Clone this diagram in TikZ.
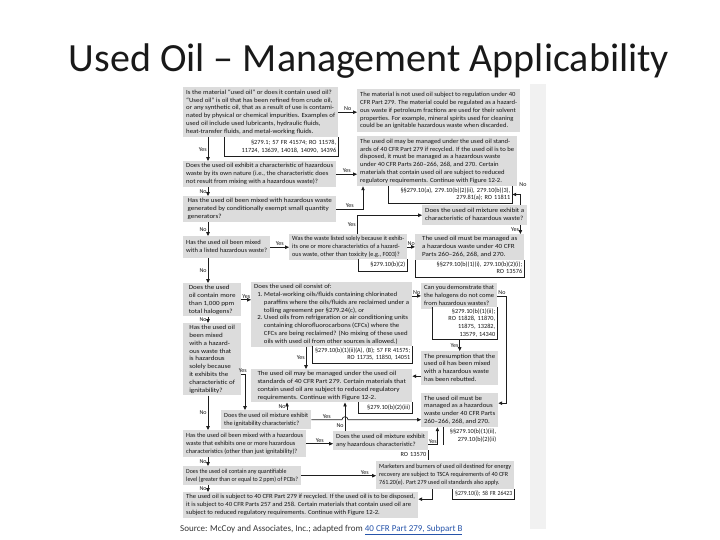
\documentclass[tikz,border=0pt]{standalone}
\usepackage{fontspec}
\usepackage{graphicx}
\setmainfont{Carlito}
\usetikzlibrary{arrows.meta,calc}
\definecolor{boxgray}{RGB}{220,220,220}
\definecolor{txt}{RGB}{20,20,20}
\definecolor{linec}{RGB}{30,30,30}
\definecolor{linkblue}{RGB}{38,84,170}
\definecolor{stripc}{RGB}{241,241,241}
\newcommand{\smf}{\fontsize{6.3}{7.8}\selectfont}
\newsavebox\tbx
\newlength\tbxw
\newcommand{\fitL}[4]{\sbox\tbx{\begin{tabular}{@{}#1@{}}#4\end{tabular}}\setlength\tbxw{\wd\tbx}\pgfmathsetmacro\mysx{min(#3,max(0.85,#2/\tbxw))}\scalebox{\mysx}[1]{\usebox\tbx}}
\newcommand{\gbx}[6]{\pgfmathsetmacro\mytw{#4-6}\node[gb,minimum width=#4pt,minimum height=#5pt] (#1) at (#2,#3) {\fitL{l}{\mytw}{1.12}{#6}};}
\newcommand{\rbx}[6]{\pgfmathsetmacro\mytw{#4-5}\node[rb,minimum width=#4pt,minimum height=#5pt,text width=#4pt-4pt,align=right] (#1) at (#2,#3) {\fitL{r}{\mytw}{1.0}{#6}};}
\newcommand{\brk}[1]{\draw[ln] (#1.north west) -- (#1.south west) -- (#1.south east) -- (#1.north east);}
\begin{document}
\begin{tikzpicture}[x=1pt,y=-1pt,
  gb/.style={fill=boxgray,anchor=north west,inner xsep=2pt,inner ysep=1pt,font=\smf,text=txt},
  rb/.style={fill=white,anchor=north west,inner xsep=2pt,inner ysep=0.5pt,font=\smf,text=txt},
  lab/.style={font=\fontsize{6}{7}\selectfont,text=txt,inner sep=1pt},
  arr/.style={draw=linec,line width=0.7pt,-{Triangle[length=3.8pt,width=3.4pt]}},
  ln/.style={draw=linec,line width=0.6pt}]
\useasboundingbox (0,0) rectangle (720,540);
\fill[stripc] (530,84) rectangle (546,529);
\node[font=\fontsize{40}{48}\selectfont,text={black!90},anchor=base] (title) at (369,72) {Used Oil – Management Applicability};

% ---------- boxes ----------
\gbx{Q1}{183}{87}{155}{50}{Is the material “used oil” or does it contain used oil?\\“Used oil” is oil that has been refined from crude oil,\\or any synthetic oil, that as a result of use is contami-\\nated by physical or chemical impurities. Examples of\\used oil include used lubricants, hydraulic fluids,\\heat-transfer fluids, and metal-working fluids.}
\rbx{R1}{224}{137}{114}{19}{§279.1; 57 FR 41574; RO 11578,\\11724, 13639, 14018, 14090, 14396}
\gbx{A1}{357}{89}{163}{43}{The material is not used oil subject to regulation under 40\\CFR Part 279. The material could be regulated as a hazard-\\ous waste if petroleum fractions are used for their solvent\\properties. For example, mineral spirits used for cleaning\\could be an ignitable hazardous waste when discarded.}
\gbx{A2}{357}{136}{160}{50}{The used oil may be managed under the used oil stand-\\ards of 40 CFR Part 279 if recycled. If the used oil is to be\\disposed, it must be managed as a hazardous waste\\under 40 CFR Parts 260–266, 268, and 270. Certain\\materials that contain used oil are subject to reduced\\regulatory requirements. Continue with Figure 12-2.}
\rbx{R2}{388}{186}{124}{16}{§§279.10(a), 279.10(b)(2)(ii), 279.10(b)(3),\\279.81(a); RO 11811}
\gbx{Q2}{183}{161}{153}{26}{Does the used oil exhibit a characteristic of hazardous\\waste by its own nature (i.e., the characteristic does\\not result from mixing with a hazardous waste)?}
\gbx{Q3}{183}{196}{153}{26}{Has the used oil been mixed with hazardous waste\\generated by conditionally exempt small quantity\\generators?}
\gbx{MX1}{422}{205}{105}{20}{Does the used oil mixture exhibit a\\characteristic of hazardous waste?}
\gbx{Q4}{183}{236}{87}{22}{Has the used oil been mixed\\with a listed hazardous waste?}
\gbx{W}{289}{234}{118}{25}{Was the waste listed solely because it exhib-\\its one or more characteristics of a hazard-\\ous waste, other than toxicity (e.g., F003)?}
\rbx{RW}{358}{259}{49}{12}{§279.10(b)(2)}
\gbx{HW1}{415}{234}{109}{26}{The used oil must be managed as\\a hazardous waste under 40 CFR\\Parts 260–266, 268, and 270.}
\rbx{RHW1}{415}{260}{109}{16}{§§279.10(b)(1)(i), 279.10(b)(2)(i);\\RO 13576}
\gbx{Q5}{183}{283}{58}{31}{Does the used\\oil contain more\\than 1,000 ppm\\total halogens?}
\gbx{C}{251}{282}{161}{64}{Does the used oil consist of:\\\hspace*{3pt}1.\ Metal-working oils/fluids containing chlorinated\\\hspace*{9pt}paraffins where the oils/fluids are reclaimed under a\\\hspace*{9pt}tolling agreement per §279.24(c), or\\\hspace*{3pt}2.\ Used oils from refrigeration or air conditioning units\\\hspace*{9pt}containing chlorofluorocarbons (CFCs) where the\\\hspace*{9pt}CFCs are being reclaimed? (No mixing of these used\\\hspace*{9pt}oils with used oil from other sources is allowed.)}
\rbx{RC}{312}{346}{100}{16}{§279.10(b)(1)(ii)(A), (B); 57 FR 41575;\\RO 11735, 11850, 14051}
\gbx{D}{421}{283}{76}{24}{Can you demonstrate that\\the halogens do not come\\from hazardous wastes?}
\rbx{RD}{432}{307}{65}{32}{§279.10(b)(1)(ii);\\RO 11828, 11870,\\11875, 13282,\\13579, 14340}
\gbx{P}{421}{351}{77}{34}{The presumption that the\\used oil has been mixed\\with a hazardous waste\\has been rebutted.}
\gbx{M}{251}{369}{161}{33}{The used oil may be managed under the used oil\\standards of 40 CFR Part 279. Certain materials that\\contain used oil are subject to reduced regulatory\\requirements. Continue with Figure 12-2.}
\rbx{RM}{358}{402}{54}{11}{§279.10(b)(2)(iii)}
\gbx{Q6}{183}{323}{58}{71}{Has the used oil\\been mixed\\with a hazard-\\ous waste that\\is hazardous\\solely because\\it exhibits the\\characteristic of\\ignitability?}
\gbx{IG}{221}{410}{90}{19}{Does the used oil mixture exhibit\\the ignitability characteristic?}
\gbx{HW2}{421}{393}{77}{34}{The used oil must be\\managed as a hazardous\\waste under 40 CFR Parts\\260–266, 268, and 270.}
\rbx{RHW2}{443}{427}{55}{18}{§§279.10(b)(1)(ii),\\279.10(b)(2)(ii)}
\gbx{AH}{333}{431}{95}{19}{Does the used oil mixture exhibit\\any hazardous characteristic?}
\rbx{RAH}{396}{450}{32}{10}{RO 13570}
\gbx{HC}{183}{430}{123}{27}{Has the used oil been mixed with a hazardous\\waste that exhibits one or more hazardous\\characteristics (other than just ignitability)?}
\gbx{PCB}{183}{466}{118}{19}{Does the used oil contain any quantifiable\\level (greater than or equal to 2 ppm) of PCBs?}
\gbx{MB}{376}{461}{138}{28}{Marketers and burners of used oil destined for energy\\recovery are subject to TSCA requirements of 40 CFR\\761.20(e). Part 279 used oil standards also apply.}
\rbx{RMB}{452}{489}{62}{10}{§279.10(i); 58 FR 26423}
\gbx{F}{183}{492}{235}{26}{The used oil is subject to 40 CFR Part 279 if recycled. If the used oil is to be disposed,\\it is subject to 40 CFR Parts 257 and 258. Certain materials that contain used oil are\\subject to reduced regulatory requirements. Continue with Figure 12-2.}

% ---------- reference brackets ----------
\brk{R1}\brk{R2}\brk{RW}\brk{RHW1}\brk{RC}\brk{RD}\brk{RM}\brk{RMB}
\draw[ln] (RHW2.north west) -- (RHW2.south west);
\draw[ln] (RAH.north east) -- (RAH.south east);

% ---------- helper coordinates ----------
\coordinate (A2x) at ([xshift=6pt]A2.south west);
\coordinate (Wx) at ([xshift=68pt]W.north west);
\coordinate (MXx) at ([xshift=-7pt]MX1.north east);
\coordinate (MXy) at ([xshift=-7pt]MX1.south east);
\coordinate (Cx) at ([xshift=55pt]C.south west);
\coordinate (Pw) at ([yshift=-8pt]P.west);
\coordinate (HWr) at ([yshift=7pt]HW2.east);
\coordinate (Q6y) at ([yshift=-15pt]Q6.east);
\coordinate (IGx) at ([xshift=24pt]IG.north west);
\coordinate (IGn) at ([xshift=66pt]IG.north west);
\coordinate (AHx) at ([xshift=12pt]AH.north west);
\coordinate (hop) at (IG.east -| AHx);
\coordinate (AHy) at ([yshift=-4pt]AH.east);
\coordinate (AHc) at ([xshift=9pt]AHy);
\coordinate (MBx) at ([xshift=56pt]MB.south west);
\coordinate (Fe) at ([yshift=6pt]F.east);

% ---------- connectors ----------
\draw[arr] (Q1.east) -- node[lab,above] (l1) {No} (Q1.east -| A1.west);
\draw[arr] ([xshift=25pt]Q1.south west) -- node[lab,left] (l2) {Yes} ([xshift=25pt]Q2.north west);
\draw[arr] (Q2.east) -- node[lab,above] (l3) {Yes} (Q2.east -| A2.west);
\draw[arr] ([xshift=25pt]Q2.south west) -- node[lab,left] (l4) {No} ([xshift=25pt]Q3.north west);
\draw[arr] (Q3.east) -- node[lab,above] (l5) {Yes} (Q3.east -| A2x) -- (A2x |- A2.south);
\draw[arr] ([xshift=25pt]Q3.south west) -- node[lab,left] (l6) {No} ([xshift=25pt]Q4.north west);
\draw[arr] (Q4.east) -- node[lab,above] (l7) {Yes} (Q4.east -| W.west);
\draw[arr] (Wx) -- node[lab,left] (l8) {Yes} (Wx |- MX1.west) -- (MX1.west);
\draw[arr] (W.east) -- node[lab,above] (l9) {No} (W.east -| HW1.west);
\draw[arr] (MXx) -- (MXx |- R2.east) -- (R2.east);
\node[lab] (l10) at (523,185) {No};
\draw[arr] (MXy) -- node[lab,left] (l11) {Yes} (MXy |- HW1.north);
\draw[arr] ([xshift=25pt]Q4.south west) -- node[lab,left] (l12) {No} ([xshift=25pt]Q5.north west);
\draw[arr] (Q5.east) -- node[lab,above] (l13) {Yes} (Q5.east -| C.west);
\draw[arr] (D.west -| C.east) -- node[lab,above] (l14) {No} (D.west);
\draw[arr] (Cx) -- node[lab,left] (l15) {Yes} (Cx |- M.north);
\draw[arr] (D.east) -- node[lab,above] (l16) {No} ++(9,0) |- (HWr);
\draw[arr] (RD.south -| P.north) -- node[lab,left] (l17) {Yes} (P.north);
\draw[arr] (Pw) -- (Pw -| M.east);
\draw[arr] ([xshift=25pt]Q5.south west) -- node[lab,left] (l18) {No} ([xshift=25pt]Q6.north west);
\draw[arr] (Q6y) -| node[lab,above,pos=0.2] (l19) {Yes} (IGx);
\draw[arr] (IGn) -- node[lab,left] (l20) {No} (IGn |- M.south);
\draw[arr] (IG.east) -- node[lab,above] (l21) {Yes} ([xshift=-3pt]hop) arc[start angle=180,end angle=0,radius=3pt] -- (IG.east -| HW2.west);
\draw[arr] (AHx) -- node[lab,left,pos=0.2] (l22) {No} (AHx |- M.south);
\draw[arr] (AHy) -- node[lab,above] (l23) {Yes} (AHc) -- (AHc |- HW2.south);
\draw[arr] ([xshift=25pt]Q6.south west) -- node[lab,left] (l24) {No} ([xshift=25pt]HC.north west);
\draw[arr] (HC.east) -- node[lab,above] (l25) {Yes} (HC.east -| AH.west);
\draw[arr] ([xshift=25pt]HC.south west) -- node[lab,left] (l26) {No} ([xshift=25pt]PCB.north west);
\draw[arr] (PCB.east) -- node[lab,above,pos=0.85] (l27) {Yes} (PCB.east -| MB.west);
\draw[arr] ([xshift=25pt]PCB.south west) -- node[lab,left] (l28) {No} ([xshift=25pt]F.north west);
\draw[arr] (MBx) |- (Fe);

% ---------- source ----------
\node[anchor=west,font=\fontsize{9}{10}\selectfont,text={black!80},inner sep=0pt] (src) at (180,530) {Source: McCoy and Associates, Inc.; adapted from \textcolor{linkblue}{\underline{40 CFR Part 279, Subpart B}}};
\end{tikzpicture}
\end{document}
